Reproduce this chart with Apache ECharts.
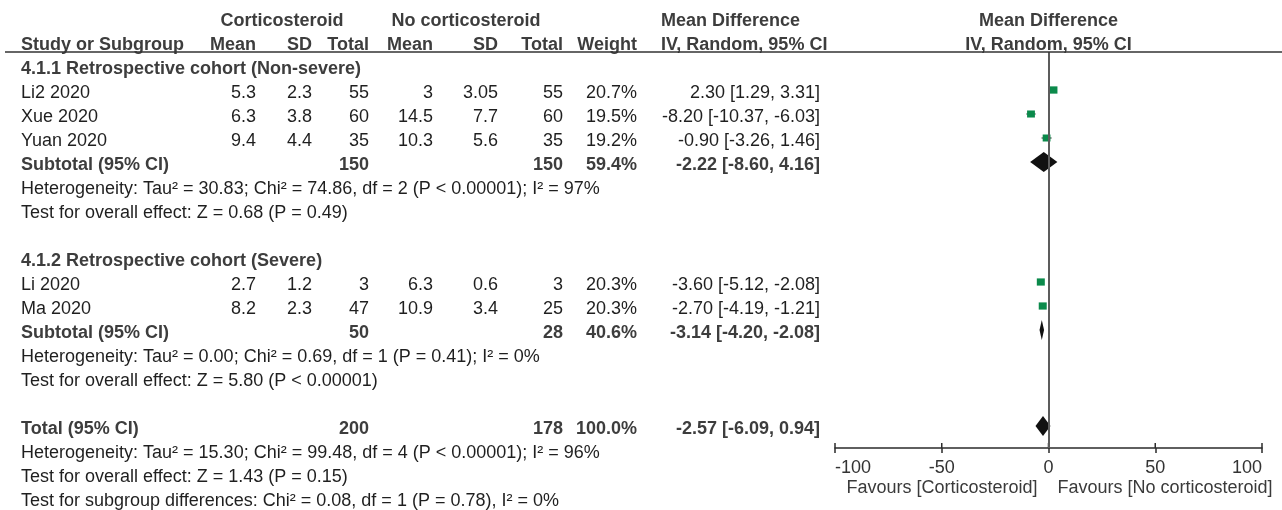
<!DOCTYPE html>
<html>
<head>
<meta charset="utf-8">
<script src="https://cdn.jsdelivr.net/npm/echarts@6/dist/echarts.min.js"></script>
<style>
  html, body { margin: 0; padding: 0; background: #ffffff; }
  #chart { width: 1282px; height: 510px; }
</style>
</head>
<body>
<div id="chart"></div>
<script>
// ---- Study-level data (mean difference, IV, random effects) ----
const studyNames = ['Li2 2020', 'Xue 2020', 'Yuan 2020', 'Li 2020', 'Ma 2020'];
const studyRows  = [1, 2, 3, 9, 10];
const expMean    = [5.3, 6.3, 9.4, 2.7, 8.2];
const expSD      = [2.3, 3.8, 4.4, 1.2, 2.3];
const expTotal   = [55, 60, 35, 3, 47];
const ctlMean    = [3, 14.5, 10.3, 6.3, 10.9];
const ctlSD      = [3.05, 7.7, 5.6, 0.6, 3.4];
const ctlTotal   = [55, 60, 35, 3, 25];
const weights    = [20.7, 19.5, 19.2, 20.3, 20.3];
const meanDiff   = [2.30, -8.20, -0.90, -3.60, -2.70];
const ciLow      = [1.29, -10.37, -3.26, -5.12, -4.19];
const ciHigh     = [3.31, -6.03, 1.46, -2.08, -1.21];

// ---- Pooled estimates (two subtotals and the overall total) ----
const pooledLabels = ['Subtotal (95% CI)', 'Subtotal (95% CI)', 'Total (95% CI)'];
const pooledRows   = [4, 11, 15];
const pooledExpN   = [150, 50, 200];
const pooledCtlN   = [150, 28, 178];
const pooledWeight = [59.4, 40.6, 100.0];
const pooledMD     = [-2.22, -3.14, -2.57];
const pooledLow    = [-8.60, -4.20, -6.09];
const pooledHigh   = [4.16, -2.08, 0.94];

// ---- Subgroup titles and statistics lines ----
const groupTitles = ['4.1.1 Retrospective cohort (Non-severe)', '4.1.2 Retrospective cohort (Severe)'];
const groupRows   = [0, 8];
const statLines = [
  'Heterogeneity: Tau² = 30.83; Chi² = 74.86, df = 2 (P < 0.00001); I² = 97%',
  'Test for overall effect: Z = 0.68 (P = 0.49)',
  'Heterogeneity: Tau² = 0.00; Chi² = 0.69, df = 1 (P = 0.41); I² = 0%',
  'Test for overall effect: Z = 5.80 (P < 0.00001)',
  'Heterogeneity: Tau² = 15.30; Chi² = 99.48, df = 4 (P < 0.00001); I² = 96%',
  'Test for overall effect: Z = 1.43 (P = 0.15)',
  'Test for subgroup differences: Chi² = 0.08, df = 1 (P = 0.78), I² = 0%'
];
const statRows = [5, 6, 12, 13, 16, 17, 18];

// ---- Axis ----
const xTicks = [-100, -50, 0, 50, 100];
const favourLeft = 'Favours [Corticosteroid]';
const favourRight = 'Favours [No corticosteroid]';

// ---- Styling ----
const FONT = '"Liberation Sans", Arial, Helvetica, sans-serif';
const FS = 18;
const TXT = '#1f1f1f';
const BOLD_TXT = '#3d3d3d';
const GREEN = '#0b8a4b';
const AXIS_COLOR = '#2b2b2b';
const ROW_MIN = -7 / 12, ROW_MAX = 15 + 11 / 12;
const TEXT_DY = 3;

// column anchors for the table (x in px, alignment)
const COL = {
  name:   { x: 21,  align: 'left' },
  eMean:  { x: 256, align: 'right' },
  eSD:    { x: 312, align: 'right' },
  eN:     { x: 369, align: 'right' },
  cMean:  { x: 433, align: 'right' },
  cSD:    { x: 498, align: 'right' },
  cN:     { x: 563, align: 'right' },
  weight: { x: 637, align: 'right' },
  md:     { x: 820, align: 'right' },
  mdHead: { x: 661, align: 'left' },
  eGroup: { x: 282, align: 'center' },
  cGroup: { x: 466, align: 'center' }
};

function f2(v) { return v.toFixed(2); }
function ciText(m, l, h) { return f2(m) + ' [' + f2(l) + ', ' + f2(h) + ']'; }

// Build the list of table cells
const cells = [];
function cell(row, col, text, bold) { cells.push({ row, col: COL[col], text: String(text), bold: !!bold }); }

// header rows
cell(-2, 'eGroup', 'Corticosteroid', true);
cell(-2, 'cGroup', 'No corticosteroid', true);
cell(-2, 'mdHead', 'Mean Difference', true);
cell(-1, 'name', 'Study or Subgroup', true);
cell(-1, 'eMean', 'Mean', true);
cell(-1, 'eSD', 'SD', true);
cell(-1, 'eN', 'Total', true);
cell(-1, 'cMean', 'Mean', true);
cell(-1, 'cSD', 'SD', true);
cell(-1, 'cN', 'Total', true);
cell(-1, 'weight', 'Weight', true);
cell(-1, 'mdHead', 'IV, Random, 95% CI', true);

groupTitles.forEach((t, i) => cell(groupRows[i], 'name', t, true));
studyNames.forEach((n, i) => {
  const r = studyRows[i];
  cell(r, 'name', n);
  cell(r, 'eMean', expMean[i]);
  cell(r, 'eSD', expSD[i]);
  cell(r, 'eN', expTotal[i]);
  cell(r, 'cMean', ctlMean[i]);
  cell(r, 'cSD', ctlSD[i]);
  cell(r, 'cN', ctlTotal[i]);
  cell(r, 'weight', weights[i].toFixed(1) + '%');
  cell(r, 'md', ciText(meanDiff[i], ciLow[i], ciHigh[i]));
});
pooledLabels.forEach((n, i) => {
  const r = pooledRows[i];
  cell(r, 'name', n, true);
  cell(r, 'eN', pooledExpN[i], true);
  cell(r, 'cN', pooledCtlN[i], true);
  cell(r, 'weight', pooledWeight[i].toFixed(1) + '%', true);
  cell(r, 'md', ciText(pooledMD[i], pooledLow[i], pooledHigh[i]), true);
});
statLines.forEach((t, i) => cell(statRows[i], 'name', t));

const chart = echarts.init(document.getElementById('chart'), null, { renderer: 'canvas' });

const option = {
  backgroundColor: '#ffffff',
  animation: false,
  grid: { left: 835, right: 20, top: 52, bottom: 62, containLabel: false },
  xAxis: {
    type: 'value', min: xTicks[0], max: xTicks[xTicks.length - 1], interval: 50,
    axisLine: { show: true, onZero: false, lineStyle: { color: AXIS_COLOR, width: 1.5 } },
    axisTick: { show: true, length: 5, lineStyle: { color: AXIS_COLOR, width: 1.5 } },
    axisLabel: {
      fontSize: FS, color: '#333333', fontFamily: FONT, margin: 11,
      alignMinLabel: 'left', alignMaxLabel: 'right'
    },
    splitLine: { show: false }
  },
  yAxis: { type: 'value', inverse: true, min: ROW_MIN, max: ROW_MAX, show: false },
  graphic: [
    { type: 'line', shape: { x1: 5, y1: 52, x2: 1282, y2: 52 }, style: { stroke: '#333333', lineWidth: 1.5 }, z: 10 },
    { type: 'text', x: 1048.5, y: 21, style: { text: 'Mean Difference', font: 'bold ' + FS + 'px ' + FONT, fill: BOLD_TXT, align: 'center', verticalAlign: 'middle' } },
    { type: 'text', x: 1048.5, y: 45, style: { text: 'IV, Random, 95% CI', font: 'bold ' + FS + 'px ' + FONT, fill: BOLD_TXT, align: 'center', verticalAlign: 'middle' } }
  ],
  series: [
    // table text
    {
      type: 'custom', name: 'table', clip: false, silent: true,
      data: cells.map((c, i) => [0, c.row, i]),
      renderItem: function (params, api) {
        const c = cells[params.dataIndex];
        const y = api.coord([0, api.value(1)])[1] + TEXT_DY;
        return {
          type: 'text',
          x: c.col.x, y: y,
          style: {
            text: c.text,
            font: (c.bold ? 'bold ' : '') + FS + 'px ' + FONT,
            fill: c.bold ? BOLD_TXT : TXT,
            align: c.col.align, verticalAlign: 'middle'
          }
        };
      }
    },
    // upward half of the axis ticks (the axis draws the downward half)
    {
      type: 'custom', name: 'ticksUp', clip: false, silent: true,
      data: xTicks.map(t => [t, ROW_MAX]),
      renderItem: function (params, api) {
        const p = api.coord([api.value(0), api.value(1)]);
        return {
          type: 'line',
          shape: { x1: p[0], y1: p[1] - 5, x2: p[0], y2: p[1] },
          style: { stroke: AXIS_COLOR, lineWidth: 1.5 }
        };
      }
    },
    // favours captions under the axis
    {
      type: 'custom', name: 'favours', clip: false, silent: true,
      data: [[0, ROW_MAX]],
      renderItem: function (params, api) {
        const p = api.coord([api.value(0), api.value(1)]);
        const st = { font: FS + 'px ' + FONT, fill: '#3a3a3a', verticalAlign: 'middle' };
        return {
          type: 'group',
          children: [
            { type: 'text', x: p[0] - 11, y: p[1] + 40, style: Object.assign({ text: favourLeft, align: 'right' }, st) },
            { type: 'text', x: p[0] + 9, y: p[1] + 40, style: Object.assign({ text: favourRight, align: 'left' }, st) }
          ]
        };
      }
    },
    // individual studies: CI whisker and weighted square
    {
      type: 'custom', name: 'studies', clip: false,
      data: meanDiff.map((m, i) => [m, studyRows[i], ciLow[i], ciHigh[i], weights[i]]),
      renderItem: function (params, api) {
        const p = api.coord([api.value(0), api.value(1)]);
        const lo = api.coord([api.value(2), api.value(1)]);
        const hi = api.coord([api.value(3), api.value(1)]);
        const s = 8 * Math.sqrt(api.value(4) / 20.3);
        return {
          type: 'group',
          children: [
            { type: 'line', shape: { x1: lo[0], y1: p[1], x2: hi[0], y2: p[1] }, style: { stroke: '#2a2a2a', lineWidth: 1 } },
            { type: 'rect', shape: { x: p[0] - s / 2, y: p[1] - s * 0.45, width: s, height: s * 0.9 }, style: { fill: GREEN } }
          ]
        };
      },
      markLine: {
        silent: true, symbol: ['none', 'none'], label: { show: false },
        lineStyle: { color: '#5c5c5c', width: 2, type: 'solid' },
        data: [{ xAxis: 0 }]
      }
    },
    // pooled diamonds
    {
      type: 'custom', name: 'pooled', clip: false,
      data: pooledMD.map((m, i) => [m, pooledRows[i], pooledLow[i], pooledHigh[i]]),
      renderItem: function (params, api) {
        const p = api.coord([api.value(0), api.value(1)]);
        const lo = api.coord([api.value(2), api.value(1)]);
        const hi = api.coord([api.value(3), api.value(1)]);
        const h = 10;
        return {
          type: 'polygon',
          shape: { points: [[lo[0], p[1]], [p[0], p[1] - h], [hi[0], p[1]], [p[0], p[1] + h]] },
          style: { fill: '#111111' }
        };
      }
    }
  ]
};

chart.setOption(option);
</script>
</body>
</html>
